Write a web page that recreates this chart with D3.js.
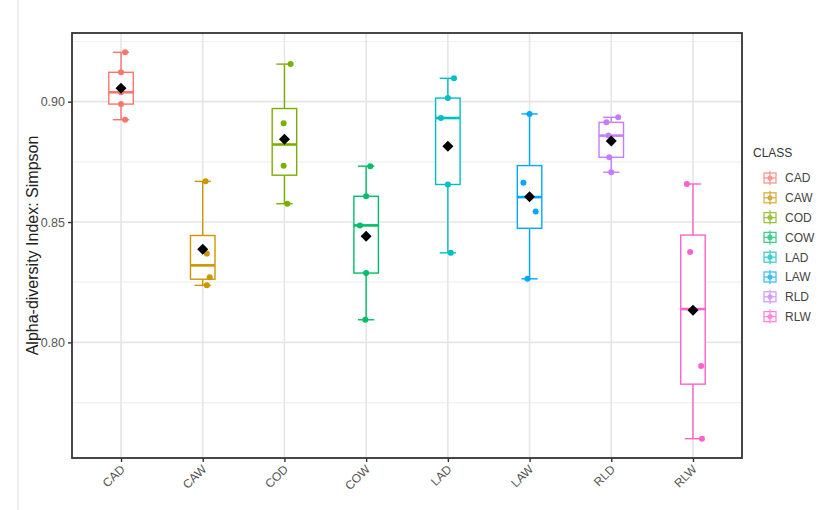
<!DOCTYPE html>
<html>
<head>
<meta charset="utf-8">
<script src="https://cdn.jsdelivr.net/npm/d3@7"></script>
<style>
  body { margin: 0; background: #fff; }
  text { font-family: "Liberation Sans", Arial, sans-serif; }
</style>
</head>
<body>
<svg id="svg" width="839" height="510"></svg>
<script>
// chart data
var classes = ["CAD", "CAW", "COD", "COW", "LAD", "LAW", "RLD", "RLW"];
var classColors = ["#F8766D", "#CD9600", "#7CAE00", "#00BE67", "#00BFC4", "#00A9FF", "#C77CFF", "#FF61CC"];

var valuesCAD = [0.8925, 0.899, 0.9039, 0.9122, 0.9205];
var valuesCAW = [0.8237, 0.8271, 0.8369, 0.8669];
var valuesCOD = [0.8576, 0.8734, 0.891, 0.9156];
var valuesCOW = [0.8094, 0.8288, 0.8486, 0.8607, 0.8732];
var valuesLAD = [0.8372, 0.8656, 0.8932, 0.9015, 0.9097];
var valuesLAW = [0.8264, 0.8544, 0.8663, 0.8949];
var valuesRLD = [0.8707, 0.8769, 0.8859, 0.8914, 0.8935];
var valuesRLW = [0.760, 0.7902, 0.8375, 0.8658];

// horizontal jitter of each dot, as a fraction of a category step
var jitterCAD = [0.05, 0, 0, 0, 0.05];
var jitterCAW = [0.05, 0.085, 0.05, 0.035];
var jitterCOD = [0.035, -0.01, -0.01, 0.075];
var jitterCOW = [-0.01, 0, -0.075, 0, 0.05];
var jitterLAD = [0.035, 0, -0.085, 0, 0.075];
var jitterLAW = [-0.025, 0.075, -0.075, 0];
var jitterRLD = [0, -0.025, -0.035, -0.06, 0.085];
var jitterRLW = [0.11, 0.1, -0.035, -0.075];

var yMajorTicks = [0.80, 0.85, 0.90];
var yMinorTicks = [0.775, 0.825, 0.875, 0.925];

window.onload = function() {
    var allValues = [valuesCAD, valuesCAW, valuesCOD, valuesCOW, valuesLAD, valuesLAW, valuesRLD, valuesRLW];
    var allJitter = [jitterCAD, jitterCAW, jitterCOD, jitterCOW, jitterLAD, jitterLAW, jitterRLD, jitterRLW];

    var left = 72, right = 742, top = 33, bottom = 458;
    var svg = d3.select("#svg");

    // faint scan edge at the far left of the picture
    svg.append("line").attr("x1", 18).attr("x2", 18).attr("y1", 0).attr("y2", 510)
        .attr("stroke", "#d9d9d9").attr("stroke-width", 1);

    var stats = classes.map(function(c, i) {
        var v = allValues[i].slice().sort(d3.ascending);
        var q1 = d3.quantile(v, 0.25), med = d3.quantile(v, 0.5), q3 = d3.quantile(v, 0.75);
        var iqr = q3 - q1;
        var lo = d3.min(v.filter(function(d) { return d >= q1 - 1.5 * iqr; }));
        var hi = d3.max(v.filter(function(d) { return d <= q3 + 1.5 * iqr; }));
        return { cls: c, color: classColors[i], q1: q1, med: med, q3: q3, lo: lo, hi: hi,
                 mean: d3.mean(v), pts: allValues[i], jit: allJitter[i] };
    });

    var flat = d3.merge(allValues);
    var ext = d3.extent(flat);
    var pad = (ext[1] - ext[0]) * 0.05;

    var y = d3.scaleLinear().domain([ext[0] - pad, ext[1] + pad]).range([bottom, top]);
    var x = d3.scalePoint().domain(classes).range([left, right]).padding(0.6);
    var step = x.step();
    var color = d3.scaleOrdinal().domain(classes).range(classColors);

    // panel grid
    var grid = svg.append("g");
    grid.selectAll(".minor").data(yMinorTicks).enter().append("line")
        .attr("x1", left).attr("x2", right)
        .attr("y1", function(d) { return y(d); }).attr("y2", function(d) { return y(d); })
        .attr("stroke", "#f0f0f0").attr("stroke-width", 1.2);
    grid.selectAll(".majorY").data(yMajorTicks).enter().append("line")
        .attr("x1", left).attr("x2", right)
        .attr("y1", function(d) { return y(d); }).attr("y2", function(d) { return y(d); })
        .attr("stroke", "#e5e5e5").attr("stroke-width", 1.6);
    grid.selectAll(".majorX").data(classes).enter().append("line")
        .attr("y1", top).attr("y2", bottom)
        .attr("x1", function(d) { return x(d); }).attr("x2", function(d) { return x(d); })
        .attr("stroke", "#e5e5e5").attr("stroke-width", 1.6);

    var boxW = step * 0.3, capW = step * 0.2;
    var g = svg.selectAll(".box").data(stats).enter().append("g");

    // whiskers
    g.append("line")
        .attr("x1", function(d) { return x(d.cls); }).attr("x2", function(d) { return x(d.cls); })
        .attr("y1", function(d) { return y(d.hi); }).attr("y2", function(d) { return y(d.q3); })
        .attr("stroke", function(d) { return d.color; }).attr("stroke-width", 1.4);
    g.append("line")
        .attr("x1", function(d) { return x(d.cls); }).attr("x2", function(d) { return x(d.cls); })
        .attr("y1", function(d) { return y(d.q1); }).attr("y2", function(d) { return y(d.lo); })
        .attr("stroke", function(d) { return d.color; }).attr("stroke-width", 1.4);
    // error bar caps
    g.append("line")
        .attr("x1", function(d) { return x(d.cls) - capW / 2; }).attr("x2", function(d) { return x(d.cls) + capW / 2; })
        .attr("y1", function(d) { return y(d.hi); }).attr("y2", function(d) { return y(d.hi); })
        .attr("stroke", function(d) { return d.color; }).attr("stroke-width", 1.4);
    g.append("line")
        .attr("x1", function(d) { return x(d.cls) - capW / 2; }).attr("x2", function(d) { return x(d.cls) + capW / 2; })
        .attr("y1", function(d) { return y(d.lo); }).attr("y2", function(d) { return y(d.lo); })
        .attr("stroke", function(d) { return d.color; }).attr("stroke-width", 1.4);
    // box
    g.append("rect")
        .attr("x", function(d) { return x(d.cls) - boxW / 2; })
        .attr("width", boxW)
        .attr("y", function(d) { return y(d.q3); })
        .attr("height", function(d) { return y(d.q1) - y(d.q3); })
        .attr("fill", "#fff").attr("stroke", function(d) { return d.color; }).attr("stroke-width", 1.4);
    // median
    g.append("line")
        .attr("x1", function(d) { return x(d.cls) - boxW / 2; }).attr("x2", function(d) { return x(d.cls) + boxW / 2; })
        .attr("y1", function(d) { return y(d.med); }).attr("y2", function(d) { return y(d.med); })
        .attr("stroke", function(d) { return d.color; }).attr("stroke-width", 2.6);

    // the samples
    g.each(function(d) {
        d3.select(this).selectAll("circle").data(d.pts).enter().append("circle")
            .attr("cx", function(v, j) { return x(d.cls) + d.jit[j] * step; })
            .attr("cy", function(v) { return y(v); })
            .attr("r", 3)
            .attr("fill", d.color);
    });

    // mean diamond
    var dia = 5.5;
    g.append("path")
        .attr("d", function(d) {
            var cx = x(d.cls), cy = y(d.mean);
            return "M" + cx + "," + (cy - dia) + "L" + (cx + dia) + "," + cy + "L" + cx + "," + (cy + dia) + "L" + (cx - dia) + "," + cy + "Z";
        })
        .attr("fill", "#000");

    // panel border
    svg.append("rect").attr("x", left).attr("y", top).attr("width", right - left).attr("height", bottom - top)
        .attr("fill", "none").attr("stroke", "#333").attr("stroke-width", 1.8);

    // axes
    var yAxis = svg.append("g").attr("transform", "translate(" + left + ",0)")
        .call(d3.axisLeft(y).tickValues(yMajorTicks).tickFormat(d3.format(".2f")).tickSize(4).tickPadding(3));
    yAxis.select(".domain").remove();
    yAxis.selectAll("line").attr("stroke", "#333").attr("stroke-width", 1.4);
    yAxis.selectAll("text").attr("fill", "#555").style("font-size", "12.5px").style("font-family", "'Liberation Sans', Arial, sans-serif");

    var xAxis = svg.append("g").attr("transform", "translate(0," + bottom + ")")
        .call(d3.axisBottom(x).tickSize(4).tickPadding(3));
    xAxis.select(".domain").remove();
    xAxis.selectAll("line").attr("stroke", "#333").attr("stroke-width", 1.4);
    xAxis.selectAll("text")
        .attr("fill", "#555").style("font-size", "12px").style("font-family", "'Liberation Sans', Arial, sans-serif")
        .attr("text-anchor", "end").attr("dy", null).attr("y", 0)
        .attr("transform", "translate(4,12) rotate(-45)");

    svg.append("text")
        .attr("transform", "translate(38," + ((top + bottom) / 2) + ") rotate(-90)")
        .attr("text-anchor", "middle")
        .attr("fill", "#222")
        .style("font-size", "16px")
        .text("Alpha-diversity Index: Simpson");

    // legend
    var leg = svg.append("g").attr("transform", "translate(752,0)");
    leg.append("text").attr("x", 1).attr("y", 157).attr("fill", "#333").style("font-size", "12px").text("CLASS");
    var keySize = 16, rowH = 19.8, firstRow = 178;
    var keys = leg.selectAll(".key").data(classes).enter().append("g")
        .attr("transform", function(d, i) { return "translate(10," + (firstRow + i * rowH - keySize / 2) + ")"; })
        .attr("opacity", 0.75);
    keys.append("line").attr("x1", keySize / 2).attr("x2", keySize / 2).attr("y1", 1).attr("y2", keySize - 1)
        .attr("stroke", function(d) { return color(d); }).attr("stroke-width", 1.3);
    keys.append("line").attr("x1", 2).attr("x2", keySize - 2).attr("y1", keySize / 2).attr("y2", keySize / 2)
        .attr("stroke", function(d) { return color(d); }).attr("stroke-width", 1.3);
    keys.append("rect").attr("x", 2).attr("y", 3).attr("width", keySize - 4).attr("height", keySize - 6)
        .attr("fill", "none").attr("stroke", function(d) { return color(d); }).attr("stroke-width", 1.3);
    keys.append("circle").attr("cx", keySize / 2).attr("cy", keySize / 2).attr("r", 2.6)
        .attr("fill", function(d) { return color(d); });
    leg.selectAll(".lab").data(classes).enter().append("text")
        .attr("x", 33).attr("y", function(d, i) { return firstRow + i * rowH + 4.3; })
        .attr("fill", "#444").style("font-size", "12px")
        .text(function(d) { return d; });
};
</script>
</body>
</html>
